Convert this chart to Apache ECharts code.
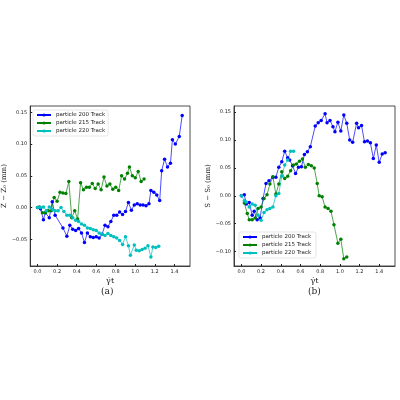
<!DOCTYPE html><html><head><meta charset="utf-8">
<script src="https://cdn.jsdelivr.net/npm/echarts@6/dist/echarts.min.js"></script>
<style>body{margin:0;background:#fff}#c{width:400px;height:400px}</style></head><body><div id="c"></div>
<script>
const xTicks=[0,0.2,0.4,0.6,0.8,1.0,1.2,1.4];
const yTicksA=[-0.05,0,0.05,0.10,0.15];
const yTicksB=[-0.10,-0.05,0,0.05,0.10,0.15];
const names=['particle 200 Track','particle 215 Track','particle 220 Track'];
const colors=['#0000ff','#008000','#00bfbf'];
const a200=[[0,0],[0.03,-0.002],[0.06,-0.019],[0.08,-0.008],[0.12,-0.016],[0.15,0.009],[0.18,-0.012],[0.26,-0.032],[0.3,-0.045],[0.33,-0.028],[0.36,-0.034],[0.39,-0.036],[0.42,-0.033],[0.45,-0.04],[0.48,-0.055],[0.51,-0.04],[0.54,-0.046],[0.57,-0.047],[0.6,-0.046],[0.63,-0.048],[0.66,-0.042],[0.69,-0.028],[0.72,-0.03],[0.75,-0.022],[0.78,-0.012],[0.81,-0.012],[0.84,-0.007],[0.87,-0.011],[0.9,-0.006],[0.93,0.008],[0.96,-0.004],[0.99,0.004],[1.02,0.006],[1.05,0.004],[1.08,0.004],[1.11,0.003],[1.14,0.006],[1.16,0.027],[1.19,0.024],[1.22,0.02],[1.25,0.011],[1.27,0.058],[1.3,0.076],[1.33,0.064],[1.36,0.07],[1.38,0.107],[1.41,0.1],[1.45,0.112],[1.48,0.145]];
const a215=[[0.02,0.001],[0.05,-0.008],[0.08,-0.008],[0.11,-0.005],[0.14,-0.005],[0.17,0.016],[0.2,0.01],[0.23,0.024],[0.26,0.023],[0.29,0.022],[0.32,0.041],[0.35,-0.016],[0.38,-0.005],[0.41,-0.018],[0.44,0.039],[0.47,0.028],[0.5,0.032],[0.53,0.032],[0.56,0.038],[0.59,0.03],[0.62,0.037],[0.65,0.028],[0.68,0.048],[0.71,0.034],[0.74,0.037],[0.77,0.029],[0.8,0.032],[0.83,0.027],[0.86,0.05],[0.89,0.045],[0.92,0.054],[0.94,0.064],[0.97,0.05],[1.0,0.047],[1.03,0.057],[1.06,0.041],[1.09,0.045]];
const a220=[[0,0],[0.03,0],[0.06,0.001],[0.09,-0.005],[0.12,0.001],[0.15,-0.003],[0.18,-0.005],[0.21,-0.005],[0.24,0],[0.27,-0.006],[0.3,-0.012],[0.33,-0.012],[0.36,-0.016],[0.39,-0.02],[0.42,-0.022],[0.45,-0.026],[0.48,-0.028],[0.51,-0.032],[0.54,-0.033],[0.57,-0.035],[0.6,-0.036],[0.63,-0.04],[0.66,-0.042],[0.69,-0.044],[0.72,-0.041],[0.75,-0.044],[0.78,-0.046],[0.81,-0.048],[0.84,-0.052],[0.87,-0.058],[0.9,-0.046],[0.93,-0.06],[0.95,-0.075],[0.99,-0.059],[1.01,-0.067],[1.04,-0.068],[1.07,-0.066],[1.1,-0.064],[1.13,-0.06],[1.16,-0.078],[1.18,-0.062],[1.21,-0.063],[1.24,-0.061]];
const b200=[[0,0],[0.03,0.002],[0.05,-0.015],[0.08,-0.012],[0.11,-0.035],[0.13,-0.028],[0.16,-0.043],[0.19,-0.04],[0.22,-0.005],[0.25,0.022],[0.28,0.027],[0.32,0.033],[0.35,0.033],[0.38,0.051],[0.41,0.061],[0.44,0.08],[0.47,0.068],[0.49,0.064],[0.52,0.054],[0.55,0.04],[0.58,0.051],[0.61,0.052],[0.64,0.074],[0.67,0.079],[0.7,0.088],[0.75,0.125],[0.78,0.131],[0.81,0.135],[0.85,0.147],[0.87,0.131],[0.9,0.135],[0.93,0.124],[0.95,0.115],[0.98,0.132],[1.01,0.116],[1.04,0.145],[1.07,0.13],[1.1,0.1],[1.13,0.096],[1.17,0.13],[1.19,0.122],[1.22,0.126],[1.25,0.097],[1.28,0.098],[1.31,0.095],[1.34,0.067],[1.37,0.091],[1.4,0.06],[1.43,0.075],[1.46,0.077]];
const b215=[[0.03,-0.013],[0.06,-0.032],[0.08,-0.043],[0.11,-0.043],[0.14,-0.04],[0.17,-0.023],[0.2,-0.02],[0.23,-0.005],[0.26,0.002],[0.29,0.021],[0.32,0.034],[0.35,0.003],[0.38,0.021],[0.41,0.043],[0.44,0.031],[0.47,0.035],[0.5,0.045],[0.53,0.055],[0.56,0.057],[0.59,0.062],[0.62,0.066],[0.65,0.051],[0.68,0.056],[0.71,0.054],[0.74,0.05],[0.77,0.022],[0.79,0],[0.82,-0.002],[0.85,-0.02],[0.88,-0.023],[0.91,-0.028],[0.94,-0.052],[0.98,-0.085],[1.01,-0.078],[1.04,-0.113],[1.07,-0.11]];
const b220=[[0,0],[0.03,-0.009],[0.05,-0.011],[0.08,-0.02],[0.11,-0.015],[0.14,-0.017],[0.17,-0.035],[0.2,-0.044],[0.23,-0.03],[0.26,-0.025],[0.29,-0.023],[0.32,-0.02],[0.35,0],[0.38,0.004],[0.41,0.035],[0.44,0.055],[0.47,0.064],[0.5,0.08],[0.53,0.08]];
const lab={fontSize:5,color:'#222',fontFamily:'DejaVu Sans'};
function xAx(i){return{type:'value',gridIndex:i,min:-0.075,max:1.56,name:'γ̇t',nameLocation:'middle',nameGap:11,nameTextStyle:{fontSize:8,fontFamily:'DejaVu Serif',color:'#222'},
 axisLine:{onZero:false,lineStyle:{color:'#222',width:0.8}},splitLine:{show:false},
 axisTick:{inside:true,length:2,customValues:xTicks,lineStyle:{color:'#222'}},axisLabel:{...lab,margin:3,customValues:xTicks,formatter:v=>v.toFixed(1)}};}
function yAx(i,min,max,ticks,name){return{type:'value',gridIndex:i,min,max,name,nameLocation:'middle',nameGap:21,nameTextStyle:{fontSize:7,fontFamily:'DejaVu Serif',color:'#222'},
 axisLine:{onZero:false,lineStyle:{color:'#222',width:0.8}},splitLine:{show:false},
 axisTick:{inside:true,length:2,customValues:ticks,lineStyle:{color:'#222'}},axisLabel:{...lab,margin:3,customValues:ticks,formatter:v=>v===0?'0.00':(v<0?'−':'')+Math.abs(v).toFixed(2)}};}
function ser(d,c,i,n){return{type:'line',name:n,data:d,xAxisIndex:i,yAxisIndex:i,symbol:'circle',symbolSize:3.5,color:c,lineStyle:{width:0.7},itemStyle:{color:c},animation:false};}
const leg=(left,top,idx)=>({orient:'vertical',left,top,itemWidth:14,itemHeight:4,itemGap:2,padding:[2,3],borderColor:'#ccc',borderWidth:0.5,borderRadius:2,textStyle:{fontSize:5.5,color:'#222',fontFamily:'DejaVu Sans'},data:names.map(n=>n+(idx?' ':''))});
const c=echarts.init(document.getElementById('c'));
c.setOption({backgroundColor:'#fff',animation:false,
grid:[{left:28,top:106,width:162,height:160,show:true,borderColor:'#222',borderWidth:0.8},{left:234,top:106,width:161,height:160,show:true,borderColor:'#222',borderWidth:0.8}],
xAxis:[xAx(0),xAx(1)],
yAxis:[yAx(0,-0.092,0.16,yTicksA,'Z − Z₀ (mm)'),yAx(1,-0.126,0.161,yTicksB,'S − S₀ (mm)')],
legend:[leg(33,110,0),leg(239,232,1)],
series:[ser(a200,colors[0],0,names[0]),ser(a215,colors[1],0,names[1]),ser(a220,colors[2],0,names[2]),
 ser(b200,colors[0],1,names[0]+' '),ser(b215,colors[1],1,names[1]+' '),ser(b220,colors[2],1,names[2]+' ')],
graphic:[{type:'text',left:101,top:287,style:{text:'(a)',fontSize:9,fontFamily:'DejaVu Serif',fill:'#222'}},
 {type:'text',left:308,top:287,style:{text:'(b)',fontSize:9,fontFamily:'DejaVu Serif',fill:'#222'}}]
});
</script></body></html>
